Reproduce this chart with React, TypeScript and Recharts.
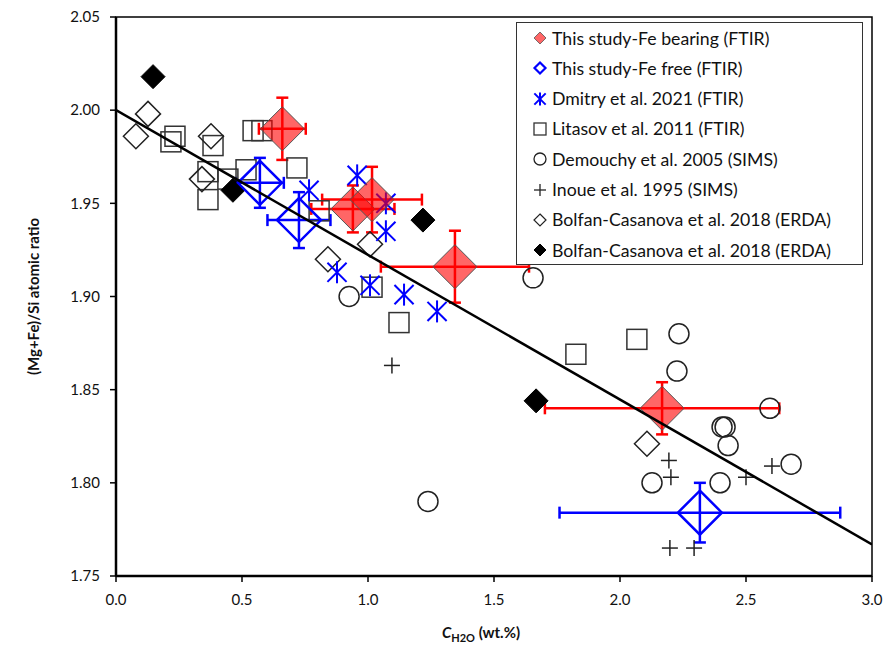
import React from 'react';
import { ScatterChart, Scatter, XAxis, YAxis, ErrorBar, ReferenceArea, Label } from 'recharts';

// (Mg+Fe)/Si vs water content
const feBearing = [
  { x: 0.66, y: 1.990, ex: 0.093, ey: 0.0167 },
  { x: 0.94, y: 1.947, ex: 0.165, ey: 0.0126 },
  { x: 1.016, y: 1.952, ex: 0.198, ey: 0.0176 },
  { x: 1.345, y: 1.916, ex: 0.294, ey: 0.0193 },
  { x: 2.167, y: 1.840, ex: 0.465, ey: 0.014 },
];

const feFree = [
  { x: 0.571, y: 1.961, ex: 0.095, ey: 0.0134 },
  { x: 0.726, y: 1.941, ex: 0.125, ey: 0.015 },
  { x: 2.317, y: 1.784, ex: 0.557, ey: 0.016 },
];

const dmitry = [
  { x: 0.957, y: 1.965 },
  { x: 0.766, y: 1.957 },
  { x: 1.071, y: 1.950 },
  { x: 1.071, y: 1.935 },
  { x: 0.877, y: 1.913 },
  { x: 1.008, y: 1.906 },
  { x: 1.143, y: 1.901 },
  { x: 1.274, y: 1.892 },
];

const litasov = [
  { x: 0.234, y: 1.986 },
  { x: 0.218, y: 1.983 },
  { x: 0.385, y: 1.981 },
  { x: 0.365, y: 1.967 },
  { x: 0.365, y: 1.952 },
  { x: 0.444, y: 1.963 },
  { x: 0.516, y: 1.968 },
  { x: 0.544, y: 1.989 },
  { x: 0.579, y: 1.989 },
  { x: 0.718, y: 1.969 },
  { x: 0.806, y: 1.946 },
  { x: 1.016, y: 1.905 },
  { x: 1.123, y: 1.886 },
  { x: 1.825, y: 1.869 },
  { x: 2.067, y: 1.877 },
];

const demouchy = [
  { x: 0.925, y: 1.900 },
  { x: 1.238, y: 1.790 },
  { x: 1.655, y: 1.910 },
  { x: 2.234, y: 1.880 },
  { x: 2.226, y: 1.860 },
  { x: 2.595, y: 1.840 },
  { x: 2.405, y: 1.830 },
  { x: 2.417, y: 1.830 },
  { x: 2.429, y: 1.820 },
  { x: 2.127, y: 1.800 },
  { x: 2.397, y: 1.800 },
  { x: 2.679, y: 1.810 },
];

const inoue = [
  { x: 1.095, y: 1.863 },
  { x: 2.194, y: 1.812 },
  { x: 2.202, y: 1.803 },
  { x: 2.500, y: 1.803 },
  { x: 2.603, y: 1.809 },
  { x: 2.198, y: 1.765 },
  { x: 2.294, y: 1.765 },
];

const bolfanOpen = [
  { x: 0.127, y: 1.998 },
  { x: 0.079, y: 1.986 },
  { x: 0.377, y: 1.986 },
  { x: 0.341, y: 1.963 },
  { x: 1.008, y: 1.928 },
  { x: 0.841, y: 1.920 },
  { x: 2.107, y: 1.821 },
];

const bolfanFilled = [
  { x: 0.147, y: 2.018 },
  { x: 0.464, y: 1.957 },
  { x: 1.218, y: 1.941 },
  { x: 1.667, y: 1.844 },
];

// linear fit drawn across the whole x range
const fitLine = [
  { x: 0, y: 2.0 },
  { x: 3.0, y: 1.767 },
];

const xTicks = [0, 0.5, 1.0, 1.5, 2.0, 2.5, 3.0];
const yTicks = [1.75, 1.8, 1.85, 1.9, 1.95, 2.0, 2.05];

const legendItems = [
  'This study-Fe bearing (FTIR)',
  'This study-Fe free (FTIR)',
  'Dmitry et al. 2021 (FTIR)',
  'Litasov et al. 2011 (FTIR)',
  'Demouchy et al. 2005 (SIMS)',
  'Inoue et al. 1995 (SIMS)',
  'Bolfan-Casanova et al. 2018 (ERDA)',
  'Bolfan-Casanova et al. 2018 (ERDA)',
];

const FONT = 'Lato, "Liberation Sans", sans-serif';
const RED = '#ff0000';
const BLUE = '#0000ff';

// ---- marker painters (cx, cy come from the library scales) ----
const diamondPath = (cx: number, cy: number, r: number) =>
  `M${cx},${cy - r}L${cx + r},${cy}L${cx},${cy + r}L${cx - r},${cy}Z`;

const paintDiamond = (cx: number, cy: number, r: number, fill: string, stroke: string, sw: number, fo = 1) => (
  <path d={diamondPath(cx, cy, r)} fill={fill} fillOpacity={fo} stroke={stroke} strokeWidth={sw} />
);

const paintAsterisk = (cx: number, cy: number, r: number, sw: number) => (
  <g stroke={BLUE} strokeWidth={sw}>
    <line x1={cx} y1={cy - r} x2={cx} y2={cy + r} />
    <line x1={cx - r * 0.87} y1={cy - r * 0.87} x2={cx + r * 0.87} y2={cy + r * 0.87} />
    <line x1={cx - r * 0.87} y1={cy + r * 0.87} x2={cx + r * 0.87} y2={cy - r * 0.87} />
  </g>
);

const paintSquare = (cx: number, cy: number, r: number, sw: number) => (
  <rect x={cx - r} y={cy - r} width={r * 2} height={r * 2} fill="none" stroke="#333" strokeWidth={sw} />
);

const paintCircle = (cx: number, cy: number, r: number, sw: number) => (
  <circle cx={cx} cy={cy} r={r} fill="none" stroke="#222" strokeWidth={sw} />
);

const paintPlus = (cx: number, cy: number, r: number, sw: number) => (
  <g stroke="#222" strokeWidth={sw}>
    <line x1={cx - r} y1={cy} x2={cx + r} y2={cy} />
    <line x1={cx} y1={cy - r} x2={cx} y2={cy + r} />
  </g>
);

const FeBearingShape = (p: any) => paintDiamond(p.cx, p.cy, 22, RED, '#555', 1, 0.6);
const FeFreeShape = (p: any) => paintDiamond(p.cx, p.cy, 22, 'none', BLUE, 2.5);
const DmitryShape = (p: any) => paintAsterisk(p.cx, p.cy, 11, 2);
const LitasovShape = (p: any) => paintSquare(p.cx, p.cy, 10, 1.5);
const DemouchyShape = (p: any) => paintCircle(p.cx, p.cy, 10, 1.5);
const InoueShape = (p: any) => paintPlus(p.cx, p.cy, 8, 1.5);
const BolfanOpenShape = (p: any) => paintDiamond(p.cx, p.cy, 12.5, '#fff', '#222', 1.5, 0);
const BolfanFilledShape = (p: any) => paintDiamond(p.cx, p.cy, 12, '#000', '#000', 1);
const NoShape = () => <g />;

const legendIcon = (i: number) => {
  const c = 8;
  switch (i) {
    case 0: return paintDiamond(c, c, 6, RED, '#555', 0.8, 0.6);
    case 1: return paintDiamond(c, c, 5.5, 'none', BLUE, 2.2);
    case 2: return paintAsterisk(c, c, 6.5, 2);
    case 3: return paintSquare(c, c, 6, 1.3);
    case 4: return paintCircle(c, c, 6, 1.3);
    case 5: return paintPlus(c, c, 6, 1.3);
    case 6: return paintDiamond(c, c, 6, '#fff', '#222', 1.2, 0);
    default: return paintDiamond(c, c, 6, '#000', '#000', 1);
  }
};

const ChartLegend = () => (
  <div
    style={{
      position: 'absolute',
      left: 516,
      top: 22,
      width: 345,
      height: 241,
      background: '#fff',
      border: '1.5px solid #333',
      fontFamily: FONT,
      fontSize: 17.7,
      color: '#111',
    }}
  >
    {legendItems.map((label, i) => (
      <div
        key={i}
        style={{ position: 'absolute', left: 15, top: 4 + i * 30.3, height: 22, display: 'flex', alignItems: 'center', whiteSpace: 'nowrap' }}
      >
        <svg width={16} height={16} style={{ marginRight: 4 }}>{legendIcon(i)}</svg>
        <span>{label}</span>
      </div>
    ))}
  </div>
);

const YTitle = (p: any) => {
  const vb = p.viewBox;
  const cx = vb.x + 33;
  const cy = vb.y + vb.height / 2;
  return (
    <text x={cx} y={cy} transform={`rotate(-90 ${cx} ${cy})`} textAnchor="middle" dominantBaseline="central"
      style={{ fontFamily: FONT, fontSize: 15, fontWeight: 700, fill: '#111' }}>
      (Mg+Fe)/Si atomic ratio
    </text>
  );
};

const XTitle = (p: any) => {
  const vb = p.viewBox;
  const cx = vb.x + vb.width / 2 - 13;
  const y = vb.y + 62;
  return (
    <text x={cx} y={y} textAnchor="middle" style={{ fontFamily: FONT, fontSize: 15, fontWeight: 700, fill: '#111' }}>
      <tspan fontStyle="italic">C</tspan>
      <tspan fontSize={11} dy={4}>H2O</tspan>
      <tspan dy={-4}> (wt.%)</tspan>
    </text>
  );
};

const tickStyle = { fontFamily: FONT, fontSize: 15, fill: '#111' };

export default function App() {
  return (
    <div style={{ position: 'absolute', left: 0, top: 0, width: 892, height: 647, background: '#fff' }}>
      <ScatterChart width={892} height={647} margin={{ top: 17, right: 20, left: 0, bottom: 0 }}>
        <XAxis
          type="number"
          dataKey="x"
          domain={[0, 3]}
          ticks={xTicks}
          tickFormatter={(v: number) => v.toFixed(1)}
          height={71}
          tickSize={6}
          tickMargin={12}
          axisLine={{ stroke: '#000', strokeWidth: 2.5 }}
          tickLine={{ stroke: '#000', strokeWidth: 1.5 }}
          tick={tickStyle}
          allowDataOverflow
        >
          <Label content={XTitle} />
        </XAxis>
        <YAxis
          type="number"
          dataKey="y"
          domain={[1.75, 2.05]}
          ticks={yTicks}
          tickFormatter={(v: number) => v.toFixed(2)}
          width={116}
          tickSize={6}
          tickMargin={10}
          axisLine={{ stroke: '#000', strokeWidth: 2.5 }}
          tickLine={{ stroke: '#000', strokeWidth: 1.5 }}
          tick={tickStyle}
          allowDataOverflow
        >
          <Label content={YTitle} />
        </YAxis>
        <ReferenceArea x1={0} x2={3} y1={1.75} y2={2.05} fill="none" stroke="#000" strokeWidth={1.5} />

        <Scatter data={litasov} shape={LitasovShape} isAnimationActive={false} />
        <Scatter data={demouchy} shape={DemouchyShape} isAnimationActive={false} />
        <Scatter data={inoue} shape={InoueShape} isAnimationActive={false} />
        <Scatter data={bolfanOpen} shape={BolfanOpenShape} isAnimationActive={false} />
        <Scatter data={bolfanFilled} shape={BolfanFilledShape} isAnimationActive={false} />
        <Scatter data={dmitry} shape={DmitryShape} isAnimationActive={false} />

        <Scatter data={feFree} shape={FeFreeShape} isAnimationActive={false}>
          <ErrorBar dataKey="ex" direction="x" width={6} stroke={BLUE} strokeWidth={2.5} />
          <ErrorBar dataKey="ey" direction="y" width={6} stroke={BLUE} strokeWidth={2.5} />
        </Scatter>

        <Scatter data={feBearing} shape={FeBearingShape} isAnimationActive={false} />
        {/* red bars painted over the translucent diamonds */}
        <Scatter data={feBearing} shape={NoShape} isAnimationActive={false}>
          <ErrorBar dataKey="ex" direction="x" width={6} stroke={RED} strokeWidth={2.5} />
          <ErrorBar dataKey="ey" direction="y" width={6} stroke={RED} strokeWidth={2.5} />
        </Scatter>

        <Scatter data={fitLine} shape={NoShape} line={{ stroke: '#000', strokeWidth: 2.5 }} isAnimationActive={false} />
      </ScatterChart>
      <ChartLegend />
    </div>
  );
}
